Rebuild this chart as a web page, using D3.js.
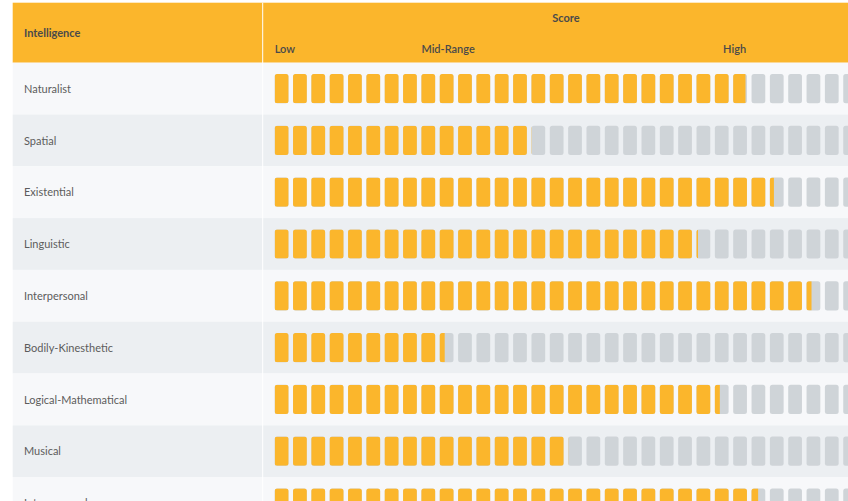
<!DOCTYPE html>
<html>
<head>
<meta charset="utf-8">
<script src="https://cdn.jsdelivr.net/npm/d3@7"></script>
<style>
  body { margin: 0; background: #ffffff; }
  svg { display: block; font-family: Lato, "Open Sans", sans-serif; }
</style>
</head>
<body>
<div id="chart"></div>
<script>
// intelligences and their scores (in segments, out of 32)
const intelligences = ["Naturalist", "Spatial", "Existential", "Linguistic", "Interpersonal",
    "Bodily-Kinesthetic", "Logical-Mathematical", "Musical", "Intrapersonal"];
const scores = [25.67, 14, 27.22, 23.08, 29.27, 9.27, 24.27, 16, 26.36];
const segmentCount = 32;
const scaleLabels = ["Low", "Mid-Range", "High"];
const scaleLabelAt = [0, 8, 24.45];

const width = 848, height = 501;
const tableLeft = 12.7, tableTop = 2.7;
const labelColWidth = 250;
const headerHeight = 60;
const rowHeight = 51.8;
const barStart = 274.7, pitch = 18.34, gap = 4.6;
const segTop = 11.3, segHeight = 29.2;

const orange = "#fbb62c";
const grey = "#cfd4d8";

const svg = d3.select("#chart")
    .append("svg")
    .attr("width", width)
    .attr("height", height);

const xScale = d3.scaleLinear()
    .domain([0, segmentCount])
    .range([barStart, barStart + segmentCount * pitch]);

const yScale = d3.scaleBand()
    .domain(intelligences)
    .range([tableTop + headerHeight, tableTop + headerHeight + intelligences.length * rowHeight])
    .paddingInner(0);

// clip made of the segments, in row-local coordinates
const segIdx = d3.range(segmentCount);
svg.append("defs").append("clipPath")
    .attr("id", "segClip")
    .selectAll("rect")
    .data(segIdx)
    .join("rect")
    .attr("x", d => xScale(d))
    .attr("y", segTop)
    .attr("width", pitch - gap)
    .attr("height", segHeight)
    .attr("rx", 2.5);

// header
svg.append("rect")
    .attr("x", tableLeft)
    .attr("y", tableTop)
    .attr("width", width - tableLeft)
    .attr("height", headerHeight)
    .attr("fill", orange);

svg.append("text")
    .attr("x", tableLeft + 11.3)
    .attr("y", tableTop + 34.5)
    .attr("font-size", 11)
    .attr("font-weight", 700)
    .attr("fill", "#4a4a4a")
    .text("Intelligence");

svg.append("text")
    .attr("x", 566)
    .attr("y", tableTop + 19.3)
    .attr("text-anchor", "middle")
    .attr("font-size", 11)
    .attr("font-weight", 700)
    .attr("fill", "#4a4a4a")
    .text("Score");

svg.selectAll("text.scaleLabel")
    .data(scaleLabels)
    .join("text")
    .attr("class", "scaleLabel")
    .attr("x", (d, i) => xScale(scaleLabelAt[i]))
    .attr("y", tableTop + 49.8)
    .attr("font-size", 11)
    .attr("font-weight", 600)
    .attr("fill", "#4a4a4a")
    .text(d => d);

// rows
const rows = svg.selectAll("g.row")
    .data(intelligences)
    .join("g")
    .attr("class", "row")
    .attr("transform", d => `translate(0,${yScale(d)})`);

rows.append("rect")
    .attr("x", tableLeft)
    .attr("y", 0)
    .attr("width", width - tableLeft)
    .attr("height", yScale.bandwidth())
    .attr("fill", (d, i) => i % 2 === 0 ? "#f7f8fa" : "#eceff2");

rows.append("text")
    .attr("x", tableLeft + 11.3)
    .attr("y", 30)
    .attr("font-size", 11)
    .attr("fill", "#5c5c5c")
    .text(d => d);

rows.selectAll("rect.seg")
    .data(segIdx)
    .join("rect")
    .attr("class", "seg")
    .attr("x", d => xScale(d))
    .attr("y", segTop)
    .attr("width", pitch - gap)
    .attr("height", segHeight)
    .attr("rx", 2.5)
    .attr("fill", grey);

rows.append("rect")
    .attr("clip-path", "url(#segClip)")
    .attr("x", xScale(0))
    .attr("y", segTop)
    .attr("width", (d, i) => xScale(scores[i]) - xScale(0))
    .attr("height", segHeight)
    .attr("fill", orange);

// column divider
svg.append("line")
    .attr("x1", tableLeft + labelColWidth)
    .attr("x2", tableLeft + labelColWidth)
    .attr("y1", tableTop)
    .attr("y2", height)
    .attr("stroke", "#ffffff")
    .attr("stroke-width", 1);
</script>
</body>
</html>
